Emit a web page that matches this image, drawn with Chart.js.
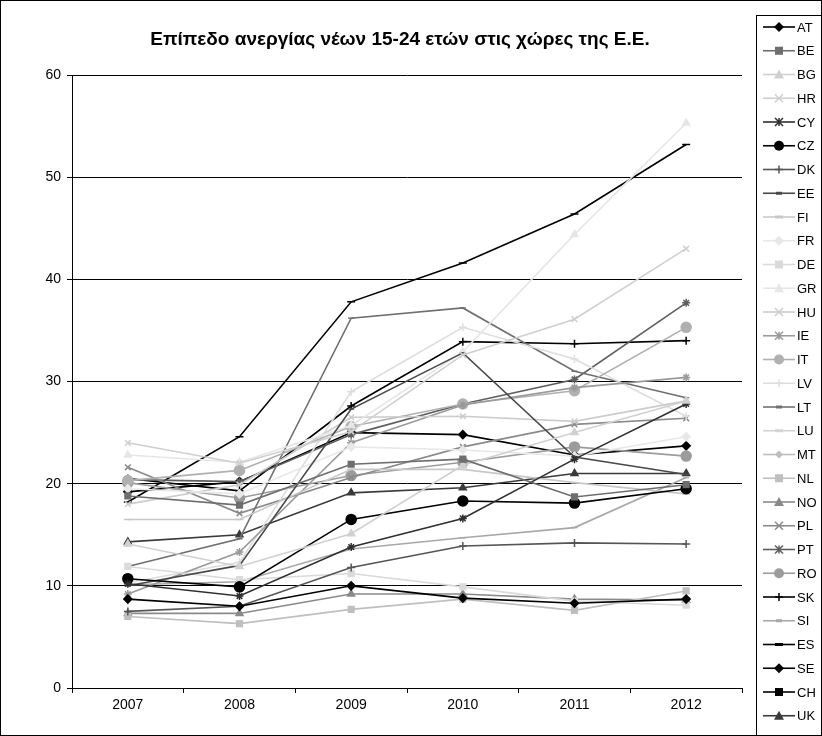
<!DOCTYPE html>
<html>
<head>
<meta charset="utf-8">
<script src="https://cdn.jsdelivr.net/npm/chart.js@4.4.0/dist/chart.umd.min.js"></script>
<style>
  html, body { margin: 0; padding: 0; background: #fff; }
  canvas { display: block; }
</style>
</head>
<body>
<canvas id="chart" width="822" height="736"></canvas>
<script>
// data (no line is drawn for MT, LU and CH in the original)
var years = ["2007", "2008", "2009", "2010", "2011", "2012"];
var yTicks = [0, 10, 20, 30, 40, 50, 60];
var title = "Επίπεδο ανεργίας νέων 15-24 ετών στις χώρες της Ε.Ε.";

var AT = [8.7, 8.0, 10.0, 8.8, 8.3, 8.7];
var BE = [18.8, 17.9, 21.9, 22.4, 18.7, 19.9];
var BG = [14.1, 11.9, 15.1, 21.8, 25.0, 28.1];
var HR = [24.0, 22.0, 25.1, 32.6, 36.1, 43.0];
var CY = [10.2, 9.0, 13.8, 16.6, 22.4, 27.8];
var CZ = [10.7, 9.9, 16.5, 18.3, 18.1, 19.5];
var DK = [7.5, 8.0, 11.8, 13.9, 14.2, 14.1];
var EE = [10.0, 12.0, 27.3, 32.8, 22.6, 20.9];
var FI = [16.5, 16.5, 21.4, 21.4, 20.1, 19.0];
var FR = [19.5, 19.0, 23.6, 23.3, 22.7, 24.6];
var DE = [11.9, 10.6, 11.2, 9.9, 8.5, 8.1];
var GR = [22.8, 22.1, 25.7, 32.9, 44.4, 55.3];
var HU = [18.0, 19.9, 26.5, 26.6, 26.1, 28.1];
var IE = [9.2, 13.3, 24.0, 27.7, 29.4, 30.4];
var IT = [20.3, 21.3, 25.6, 27.8, 29.1, 35.3];
var LV = [10.3, 12.3, 29.0, 35.3, 32.2, 26.6];
var LT = [11.9, 14.6, 36.2, 37.2, 31.0, 28.4];
var LU = [null, null, null, null, null, null];
var MT = [null, null, null, null, null, null];
var NL = [7.0, 6.3, 7.7, 8.7, 7.6, 9.5];
var NO = [7.3, 7.3, 9.2, 9.2, 8.7, 8.6];
var PL = [21.6, 17.1, 20.6, 23.6, 25.8, 26.4];
var PT = [20.4, 20.2, 24.8, 27.8, 30.2, 37.7];
var RO = [20.1, 18.6, 20.8, 22.1, 23.6, 22.7];
var SK = [20.5, 19.3, 27.6, 33.9, 33.7, 34.0];
var SI = [10.1, 10.4, 13.6, 14.7, 15.7, 20.6];
var ES = [18.2, 24.6, 37.8, 41.6, 46.4, 53.2];
var SE = [19.2, 20.2, 25.0, 24.8, 22.8, 23.7];
var CH = [null, null, null, null, null, null];
var UK = [14.3, 15.0, 19.1, 19.6, 21.0, 21.0];

var countries = ["AT", "BE", "BG", "HR", "CY", "CZ", "DK", "EE", "FI", "FR", "DE", "GR", "HU", "IE", "IT",
                 "LV", "LT", "LU", "MT", "NL", "NO", "PL", "PT", "RO", "SK", "SI", "ES", "SE", "CH", "UK"];
var values = [AT, BE, BG, HR, CY, CZ, DK, EE, FI, FR, DE, GR, HU, IE, IT,
              LV, LT, LU, MT, NL, NO, PL, PT, RO, SK, SI, ES, SE, CH, UK];

// grey shades and markers, in legend order: [colour, marker, radius]
var looks = [
  ["#000000", "rectRot", 4], ["#6e6e6e", "rect", 4], ["#d0d0d0", "triangle", 4], ["#cfcfcf", "crossRot", 4],
  ["#303030", "star", 4], ["#000000", "circle", 5], ["#555555", "cross", 4], ["#4a4a4a", "line", 3],
  ["#c8c8c8", "line", 4], ["#e8e8e8", "rectRot", 4], ["#dadada", "rect", 4], ["#e6e6e6", "triangle", 4],
  ["#cccccc", "crossRot", 4], ["#9a9a9a", "star", 4], ["#b0b0b0", "circle", 5], ["#dedede", "cross", 4],
  ["#707070", "line", 3], ["#d4d4d4", "line", 4], ["#bdbdbd", "rectRot", 3], ["#bfbfbf", "rect", 4],
  ["#8a8a8a", "triangle", 4], ["#8a8a8a", "crossRot", 4], ["#5e5e5e", "star", 4], ["#9c9c9c", "circle", 5],
  ["#000000", "cross", 4], ["#a8a8a8", "line", 3], ["#000000", "line", 4], ["#000000", "rectRot", 4],
  ["#000000", "rect", 4], ["#3a3a3a", "triangle", 4]
];

var datasets = countries.map(function(c, i) {
  var l = looks[i];
  return {
    label: c,
    data: values[i],
    borderColor: l[0],
    backgroundColor: l[0],
    pointBorderColor: l[0],
    pointBackgroundColor: l[0],
    pointStyle: l[1],
    pointRadius: l[2],
    pointBorderWidth: 1.5,
    borderWidth: 1.6,
    tension: 0,
    fill: false
  };
});

function marker(ctx, style, r, x, y, col) {
  ctx.save();
  ctx.fillStyle = col; ctx.strokeStyle = col; ctx.lineWidth = 1.5;
  ctx.beginPath();
  if (style === "circle") { ctx.arc(x, y, r, 0, Math.PI * 2); ctx.fill(); }
  else if (style === "rect") { ctx.fillRect(x - r, y - r, 2 * r, 2 * r); }
  else if (style === "rectRot") { ctx.moveTo(x, y - r - 1); ctx.lineTo(x + r + 1, y); ctx.lineTo(x, y + r + 1); ctx.lineTo(x - r - 1, y); ctx.closePath(); ctx.fill(); }
  else if (style === "triangle") { ctx.moveTo(x, y - r - 1); ctx.lineTo(x + r + 1, y + r); ctx.lineTo(x - r - 1, y + r); ctx.closePath(); ctx.fill(); }
  else if (style === "crossRot") { ctx.moveTo(x - r, y - r); ctx.lineTo(x + r, y + r); ctx.moveTo(x + r, y - r); ctx.lineTo(x - r, y + r); ctx.stroke(); }
  else if (style === "cross") { ctx.moveTo(x - r, y); ctx.lineTo(x + r, y); ctx.moveTo(x, y - r); ctx.lineTo(x, y + r); ctx.stroke(); }
  else if (style === "star") { ctx.moveTo(x - r, y - r); ctx.lineTo(x + r, y + r); ctx.moveTo(x + r, y - r); ctx.lineTo(x - r, y + r); ctx.moveTo(x, y - r); ctx.lineTo(x, y + r); ctx.stroke(); }
  else if (style === "line") { ctx.lineWidth = 3; ctx.moveTo(x - r, y); ctx.lineTo(x + r, y); ctx.stroke(); }
  ctx.restore();
}

// title, frame and the boxed legend on the right
var decor = {
  id: "decor",
  afterDraw: function(chart) {
    var ctx = chart.ctx;
    ctx.save();
    ctx.strokeStyle = "#000";
    ctx.lineWidth = 1;
    ctx.strokeRect(0.5, 0.5, 821, 735);
    ctx.strokeRect(756.5, 15.5, 100, 740);

    ctx.fillStyle = "#000";
    ctx.font = 'bold 19px "Liberation Sans", Arial, sans-serif';
    ctx.textAlign = "center";
    ctx.textBaseline = "middle";
    ctx.fillText(title, 400, 40);

    ctx.font = '13px "Liberation Sans", Arial, sans-serif';
    ctx.textAlign = "left";
    chart.data.datasets.forEach(function(ds, i) {
      var y = 27 + i * 23.75;
      ctx.strokeStyle = ds.borderColor;
      ctx.lineWidth = 1.6;
      ctx.beginPath();
      ctx.moveTo(763, y);
      ctx.lineTo(795, y);
      ctx.stroke();
      marker(ctx, ds.pointStyle, ds.pointRadius, 779, y, ds.borderColor);
      ctx.fillStyle = "#000";
      ctx.fillText(ds.label, 797, y + 1);
    });
    ctx.restore();
  }
};

new Chart(document.getElementById("chart"), {
  type: "line",
  data: { labels: years, datasets: datasets },
  plugins: [decor],
  options: {
    responsive: false,
    animation: false,
    devicePixelRatio: 1,
    layout: { padding: { left: 0, top: 75, right: 80, bottom: 0 } },
    plugins: {
      legend: { display: false },
      title: { display: false },
      tooltip: { enabled: false }
    },
    scales: {
      x: {
        offset: true,
        grid: { display: true, drawOnChartArea: false, drawTicks: true, tickLength: 5, offset: true, color: "#000" },
        border: { display: true, color: "#000", width: 1 },
        ticks: { color: "#000", padding: 4, font: { family: '"Liberation Sans", Arial, sans-serif', size: 14 } },
        afterFit: function(s) { s.height = 48; }
      },
      y: {
        min: 0,
        max: 60,
        afterBuildTicks: function(s) { s.ticks = yTicks.map(function(v) { return { value: v }; }); },
        grid: { color: "#000", lineWidth: 1, drawTicks: true, tickLength: 5 },
        border: { display: true, color: "#000", width: 1 },
        ticks: { color: "#000", padding: 6, font: { family: '"Liberation Sans", Arial, sans-serif', size: 14 } },
        afterFit: function(s) { s.width = 72; }
      }
    }
  }
});
</script>
</body>
</html>
